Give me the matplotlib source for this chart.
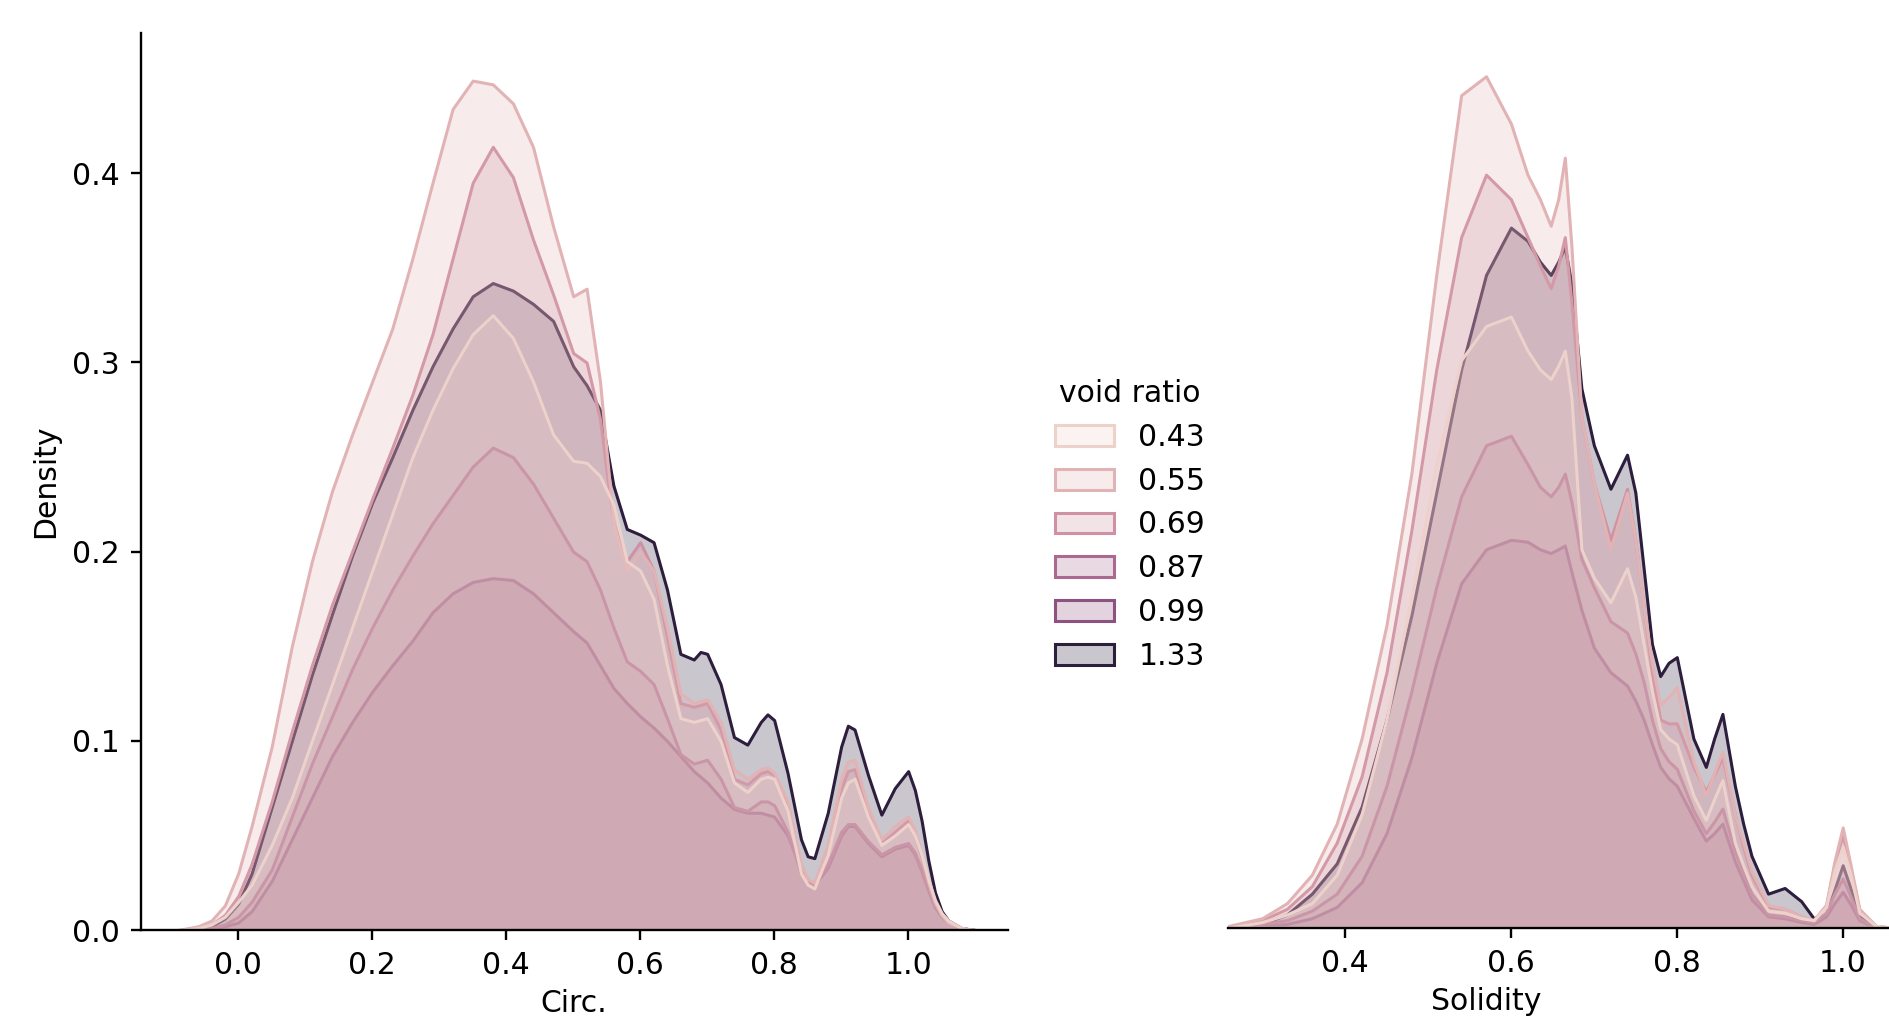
import matplotlib
matplotlib.use("Agg")
import matplotlib.pyplot as plt
from matplotlib.colors import to_rgba
from matplotlib.patches import Patch
import seaborn as sns

# void ratio levels (hue)
void_ratio = [0.43, 0.55, 0.69, 0.87, 0.99, 1.33]

# ---- Circ. panel: density values ----
circ_x = [-0.09, -0.06, -0.04, -0.02, 0.00, 0.02, 0.05, 0.08, 0.11, 0.14, 0.17, 0.20, 0.23,
          0.26, 0.29, 0.32, 0.35, 0.38, 0.41, 0.44, 0.47, 0.50, 0.52, 0.54, 0.56, 0.58,
          0.60, 0.62, 0.64, 0.66, 0.68, 0.69, 0.70, 0.72, 0.74, 0.76, 0.78, 0.79, 0.80,
          0.82, 0.84, 0.85, 0.86, 0.88, 0.90, 0.91, 0.92, 0.94, 0.96, 0.98, 1.00, 1.01,
          1.02, 1.03, 1.04, 1.05, 1.06, 1.08, 1.10]
circ_043 = [0.0, 0.001, 0.003, 0.007, 0.015, 0.024, 0.045, 0.07, 0.1, 0.13, 0.16, 0.19, 0.22,
            0.25, 0.275, 0.297, 0.315, 0.325, 0.313, 0.29, 0.262, 0.248, 0.247, 0.24, 0.225, 0.195,
            0.19, 0.175, 0.14, 0.112, 0.11, 0.111, 0.112, 0.1, 0.078, 0.073, 0.08, 0.081, 0.08,
            0.063, 0.03, 0.024, 0.022, 0.04, 0.07, 0.078, 0.08, 0.06, 0.045, 0.05, 0.056, 0.05,
            0.04, 0.027, 0.016, 0.009, 0.005, 0.001, 0.0]
circ_055 = [0.0, 0.002, 0.005, 0.013, 0.03, 0.055, 0.097, 0.15, 0.195, 0.232, 0.262, 0.29, 0.318,
            0.355, 0.395, 0.434, 0.449, 0.447, 0.437, 0.414, 0.372, 0.335, 0.339, 0.29, 0.215, 0.19,
            0.2, 0.19, 0.16, 0.125, 0.12, 0.121, 0.122, 0.11, 0.085, 0.08, 0.085, 0.086, 0.083,
            0.068, 0.035, 0.027, 0.025, 0.045, 0.08, 0.089, 0.09, 0.065, 0.048, 0.055, 0.06, 0.053,
            0.04, 0.026, 0.015, 0.008, 0.004, 0.001, 0.0]
circ_069 = [0.0, 0.001, 0.003, 0.008, 0.018, 0.035, 0.068, 0.105, 0.14, 0.172, 0.2, 0.228, 0.255,
            0.283, 0.315, 0.355, 0.395, 0.414, 0.398, 0.365, 0.336, 0.305, 0.3, 0.27, 0.215, 0.195,
            0.205, 0.19, 0.155, 0.12, 0.118, 0.119, 0.12, 0.106, 0.08, 0.077, 0.083, 0.084, 0.082,
            0.065, 0.033, 0.026, 0.024, 0.042, 0.075, 0.084, 0.085, 0.062, 0.046, 0.052, 0.058, 0.05,
            0.038, 0.025, 0.014, 0.008, 0.004, 0.001, 0.0]
circ_087 = [0.0, 0.0, 0.001, 0.003, 0.007, 0.015, 0.032, 0.06, 0.088, 0.113, 0.138, 0.16, 0.18,
            0.198, 0.215, 0.23, 0.245, 0.255, 0.25, 0.236, 0.218, 0.2, 0.195, 0.18, 0.16, 0.142,
            0.137, 0.13, 0.112, 0.093, 0.088, 0.089, 0.09, 0.08, 0.065, 0.063, 0.068, 0.068, 0.066,
            0.052, 0.03, 0.026, 0.024, 0.035, 0.052, 0.056, 0.056, 0.047, 0.04, 0.044, 0.046, 0.041,
            0.032, 0.022, 0.013, 0.007, 0.004, 0.001, 0.0]
circ_099 = [0.0, 0.0, 0.001, 0.002, 0.004, 0.01, 0.026, 0.048, 0.07, 0.092, 0.11, 0.126, 0.14,
            0.153, 0.168, 0.178, 0.184, 0.186, 0.185, 0.178, 0.168, 0.158, 0.152, 0.14, 0.128, 0.12,
            0.113, 0.107, 0.1, 0.092, 0.084, 0.081, 0.078, 0.07, 0.064, 0.062, 0.062, 0.061, 0.06,
            0.05, 0.032, 0.026, 0.024, 0.033, 0.05, 0.055, 0.055, 0.046, 0.039, 0.043, 0.045, 0.04,
            0.031, 0.021, 0.012, 0.007, 0.004, 0.001, 0.0]
circ_133 = [0.0, 0.0, 0.002, 0.006, 0.014, 0.03, 0.065, 0.1, 0.135, 0.167, 0.198, 0.226, 0.25,
            0.275, 0.298, 0.318, 0.335, 0.342, 0.338, 0.331, 0.322, 0.298, 0.288, 0.275, 0.235, 0.212,
            0.209, 0.205, 0.18, 0.146, 0.143, 0.147, 0.146, 0.13, 0.102, 0.098, 0.11, 0.114, 0.111,
            0.083, 0.048, 0.039, 0.038, 0.062, 0.097, 0.108, 0.106, 0.082, 0.061, 0.075, 0.084, 0.074,
            0.058, 0.037, 0.02, 0.01, 0.005, 0.001, 0.0]

# ---- Solidity panel ----
sol_x = [0.26, 0.30, 0.33, 0.36, 0.39, 0.42, 0.45, 0.48, 0.51, 0.54, 0.57, 0.60, 0.62, 0.635,
         0.648, 0.657, 0.665, 0.673, 0.685, 0.70, 0.72, 0.74, 0.75, 0.76, 0.77, 0.78, 0.79,
         0.80, 0.82, 0.835, 0.845, 0.855, 0.87, 0.88, 0.89, 0.91, 0.93, 0.95, 0.965, 0.98,
         0.99, 1.00, 1.01, 1.02, 1.04, 1.06]
sol_043 = [0.0, 0.003, 0.007, 0.013, 0.028, 0.06, 0.11, 0.175, 0.245, 0.3, 0.318, 0.323, 0.305, 0.295,
           0.29, 0.297, 0.305, 0.28, 0.2, 0.185, 0.172, 0.19, 0.175, 0.15, 0.125, 0.105, 0.1,
           0.097, 0.07, 0.057, 0.068, 0.078, 0.045, 0.033, 0.022, 0.009, 0.008, 0.005, 0.004, 0.011,
           0.03, 0.043, 0.027, 0.008, 0.001, 0.0]
sol_055 = [0.001, 0.005, 0.013, 0.028, 0.055, 0.1, 0.16, 0.24, 0.345, 0.44, 0.45, 0.425, 0.398, 0.385,
           0.371, 0.385, 0.407, 0.36, 0.27, 0.235, 0.2, 0.23, 0.205, 0.17, 0.14, 0.118, 0.122,
           0.127, 0.088, 0.07, 0.082, 0.093, 0.06, 0.045, 0.03, 0.012, 0.01, 0.006, 0.004, 0.012,
           0.035, 0.053, 0.032, 0.01, 0.001, 0.0]
sol_069 = [0.0, 0.004, 0.01, 0.022, 0.045, 0.08, 0.135, 0.21, 0.295, 0.365, 0.398, 0.385, 0.365, 0.35,
           0.338, 0.35, 0.365, 0.33, 0.27, 0.235, 0.205, 0.232, 0.205, 0.17, 0.135, 0.11, 0.108,
           0.108, 0.085, 0.072, 0.081, 0.09, 0.06, 0.043, 0.028, 0.011, 0.01, 0.006, 0.004, 0.012,
           0.033, 0.049, 0.03, 0.009, 0.001, 0.0]
sol_087 = [0.0, 0.002, 0.004, 0.009, 0.018, 0.038, 0.075, 0.125, 0.18, 0.228, 0.255, 0.26, 0.245, 0.233,
           0.228, 0.233, 0.24, 0.225, 0.195, 0.18, 0.162, 0.156, 0.145, 0.13, 0.11, 0.095, 0.088,
           0.084, 0.062, 0.05, 0.056, 0.063, 0.04, 0.029, 0.018, 0.007, 0.006, 0.004, 0.003, 0.008,
           0.018, 0.026, 0.016, 0.005, 0.0, 0.0]
sol_099 = [0.0, 0.001, 0.002, 0.005, 0.011, 0.024, 0.05, 0.09, 0.14, 0.182, 0.2, 0.205, 0.204, 0.2,
           0.198, 0.2, 0.202, 0.188, 0.168, 0.148, 0.135, 0.128, 0.12, 0.11, 0.097, 0.085, 0.079,
           0.075, 0.058, 0.046, 0.05, 0.055, 0.035, 0.025, 0.015, 0.006, 0.005, 0.003, 0.002, 0.006,
           0.013, 0.019, 0.012, 0.004, 0.0, 0.0]
sol_133 = [0.0, 0.002, 0.007, 0.018, 0.034, 0.064, 0.11, 0.165, 0.23, 0.295, 0.345, 0.37, 0.363, 0.352,
           0.345, 0.352, 0.36, 0.34, 0.285, 0.255, 0.232, 0.25, 0.23, 0.19, 0.15, 0.133, 0.14,
           0.143, 0.1, 0.085, 0.1, 0.113, 0.075, 0.055, 0.038, 0.018, 0.021, 0.014, 0.005, 0.007,
           0.02, 0.033, 0.02, 0.006, 0.0, 0.0]

circ_y = [circ_043, circ_055, circ_069, circ_087, circ_099, circ_133]
sol_y = [sol_043, sol_055, sol_069, sol_087, sol_099, sol_133]

FS = 21.5
cmap = sns.cubehelix_palette(as_cmap=True)
norm = plt.Normalize(min(void_ratio), max(void_ratio))
colors = [cmap(norm(v)) for v in void_ratio]

fig = plt.figure(figsize=(18.9, 10.16), dpi=100)
ax1 = fig.add_axes([0.0744, 0.0846, 0.4587, 0.8832])
ax2 = fig.add_axes([0.6499, 0.0869, 0.3514, 0.8833])


def draw(ax, x, ys):
    # darkest first, lightest on top (layered kde look)
    for y, c in reversed(list(zip(ys, colors))):
        ax.fill_between(x, y, 0, facecolor=to_rgba(c, 0.25), edgecolor=c, linewidth=2.2)


draw(ax1, circ_x, circ_y)
draw(ax2, sol_x, sol_y)

ax1.set_xlim(-0.1457, 1.1484)
ax1.set_ylim(0, 0.4743)
ax1.set_xticks([0.0, 0.2, 0.4, 0.6, 0.8, 1.0])
ax1.set_yticks([0.0, 0.1, 0.2, 0.3, 0.4])
ax1.set_xlabel("Circ.", fontsize=FS)
ax1.set_ylabel("Density", fontsize=FS, labelpad=8.6)
ax1.xaxis.set_label_coords(0.5, -0.066)

ax2.set_xlim(0.2593, 1.06)
ax2.set_ylim(0, 0.4743)
ax2.set_xticks([0.4, 0.6, 0.8, 1.0])
ax2.set_yticks([])
ax2.set_xlabel("Solidity", fontsize=FS)
ax2.xaxis.set_label_coords(0.388, -0.066)
ax2.spines["left"].set_visible(False)

for ax in (ax1, ax2):
    ax.spines["top"].set_visible(False)
    ax.spines["right"].set_visible(False)
    for s in ax.spines.values():
        s.set_linewidth(1.7)
    ax.tick_params(labelsize=FS, length=7.5, width=1.7, pad=7.5)

handles = [Patch(facecolor=to_rgba(c, 0.25), edgecolor=c, linewidth=2.2) for c in colors]
labels = [f"{v:.2f}" for v in void_ratio]
fig.legend(handles, labels, title="void ratio", loc="center left",
           bbox_to_anchor=(0.5517, 0.4833), frameon=False, fontsize=FS, title_fontsize=FS,
           borderaxespad=0)

fig.savefig("out.png", dpi=100)
